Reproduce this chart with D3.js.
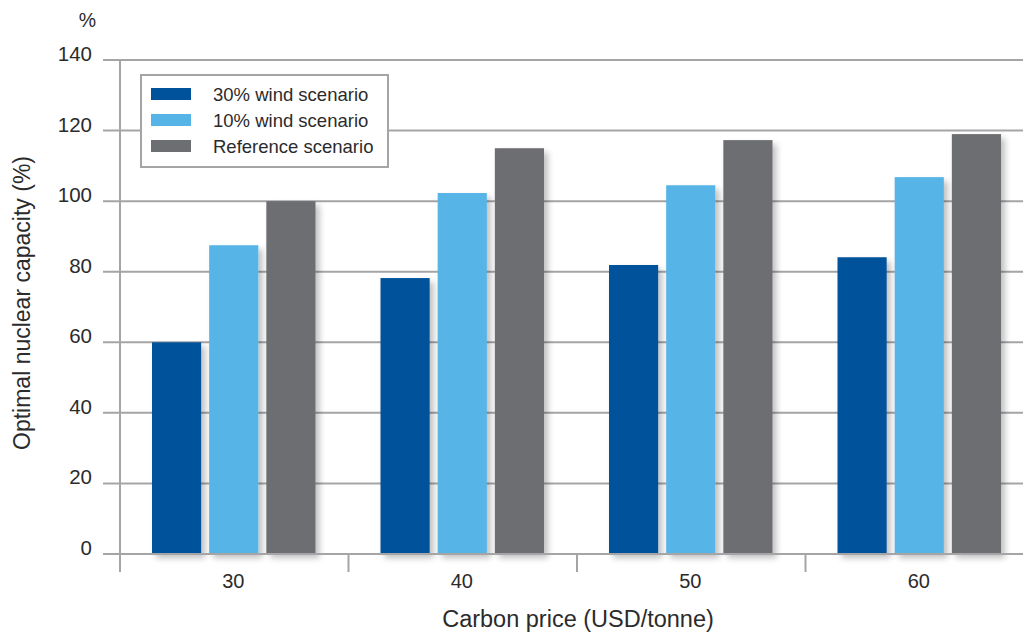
<!DOCTYPE html>
<html><head><meta charset="utf-8">
<script src="https://cdn.jsdelivr.net/npm/d3@7"></script>
<style>body{margin:0;background:#fff}svg{display:block;font-family:"Liberation Sans",Arial,sans-serif}</style>
</head><body><svg id="c" width="1023" height="632"></svg>
<script>
const categories = ["30","40","50","60"];
const seriesNames = ["30% wind scenario","10% wind scenario","Reference scenario"];
const wind30 = [60, 78.2, 81.9, 84.1];
const wind10 = [87.5, 102.3, 104.5, 106.8];
const reference = [100, 115, 117.3, 119];
const yTicks = [0,20,40,60,80,100,120,140];
const colors = ["#00529b","#56b4e6","#6d6e71"];

const svg = d3.select("#c");
const defs = svg.append("defs");
const f = defs.append("filter").attr("id","sh").attr("x","-20%").attr("y","-5%").attr("width","150%").attr("height","120%");
f.append("feGaussianBlur").attr("in","SourceAlpha").attr("stdDeviation",3).attr("result","b");
f.append("feOffset").attr("in","b").attr("dx",4).attr("dy",4).attr("result","o");
f.append("feComponentTransfer").attr("in","o").attr("result","o2").append("feFuncA").attr("type","linear").attr("slope",0.25);
const fm = f.append("feMerge"); fm.append("feMergeNode").attr("in","o2"); fm.append("feMergeNode").attr("in","SourceGraphic");

const x0 = 120, x1 = 1034, yBottom = 554, yTop = 60;
const y = d3.scaleLinear().domain([0,140]).range([yBottom,yTop]);
const x = d3.scaleBand().domain(categories).range([x0,x1]).paddingInner(0).paddingOuter(0);
const xs = d3.scaleBand().domain(d3.range(3)).range([32, x.bandwidth()-33]).paddingInner(0.14).paddingOuter(0);

const gridC = "#a5a5a8";
const txt = "#2b2b2b";
svg.append("g").selectAll("line").data(yTicks).join("line")
  .attr("x1",103).attr("x2",1023).attr("y1",d=>y(d)).attr("y2",d=>y(d))
  .attr("stroke",gridC).attr("stroke-width",2);
svg.append("g").selectAll("text").data(yTicks).join("text")
  .attr("x",92).attr("y",d=>y(d)+1).attr("text-anchor","end")
  .attr("font-size",20.5).attr("fill",txt).text(d=>d);
svg.append("text").attr("x",96).attr("y",27).attr("text-anchor","end").attr("font-size",19.5).attr("fill",txt).text("%");

const series = [wind30, wind10, reference];
const g = svg.append("g");
categories.forEach((c,ci)=>{
  series.forEach((s,si)=>{
    g.append("rect").attr("x",x(c)+xs(si)).attr("width",xs.bandwidth())
      .attr("y",y(s[ci])).attr("height",y(0)-y(s[ci]))
      .attr("fill",colors[si]).attr("filter","url(#sh)");
  });
});
svg.append("line").attr("x1",103).attr("x2",1023).attr("y1",y(0)).attr("y2",y(0)).attr("stroke",gridC).attr("stroke-width",2);
svg.append("line").attr("x1",x0).attr("x2",x0).attr("y1",yTop).attr("y2",572).attr("stroke",gridC).attr("stroke-width",2);
svg.append("g").selectAll("line").data(categories.slice(1)).join("line")
  .attr("x1",d=>x(d)).attr("x2",d=>x(d)).attr("y1",y(0)).attr("y2",572).attr("stroke",gridC).attr("stroke-width",2);
svg.append("g").selectAll("text").data(categories).join("text")
  .attr("x",d=>x(d)+x.bandwidth()/2-1).attr("y",588).attr("text-anchor","middle")
  .attr("font-size",20).attr("fill",txt).text(d=>d);
svg.append("text").attr("x",578).attr("y",627).attr("text-anchor","middle").attr("font-size",23.5).attr("fill",txt).text("Carbon price (USD/tonne)");
svg.append("text").attr("transform","translate(30,303) rotate(-90)").attr("text-anchor","middle").attr("font-size",23).attr("fill",txt).text("Optimal nuclear capacity (%)");

const lg = svg.append("g");
lg.append("rect").attr("x",141).attr("y",75).attr("width",247).attr("height",92).attr("fill","#fff").attr("stroke",gridC).attr("stroke-width",2);
seriesNames.forEach((n,i)=>{
  lg.append("rect").attr("x",151).attr("y",88+i*26).attr("width",40).attr("height",12).attr("fill",colors[i]);
  lg.append("text").attr("x",213).attr("y",101+i*26).attr("font-size",18.5).attr("fill",txt).text(n);
});
</script></body></html>
